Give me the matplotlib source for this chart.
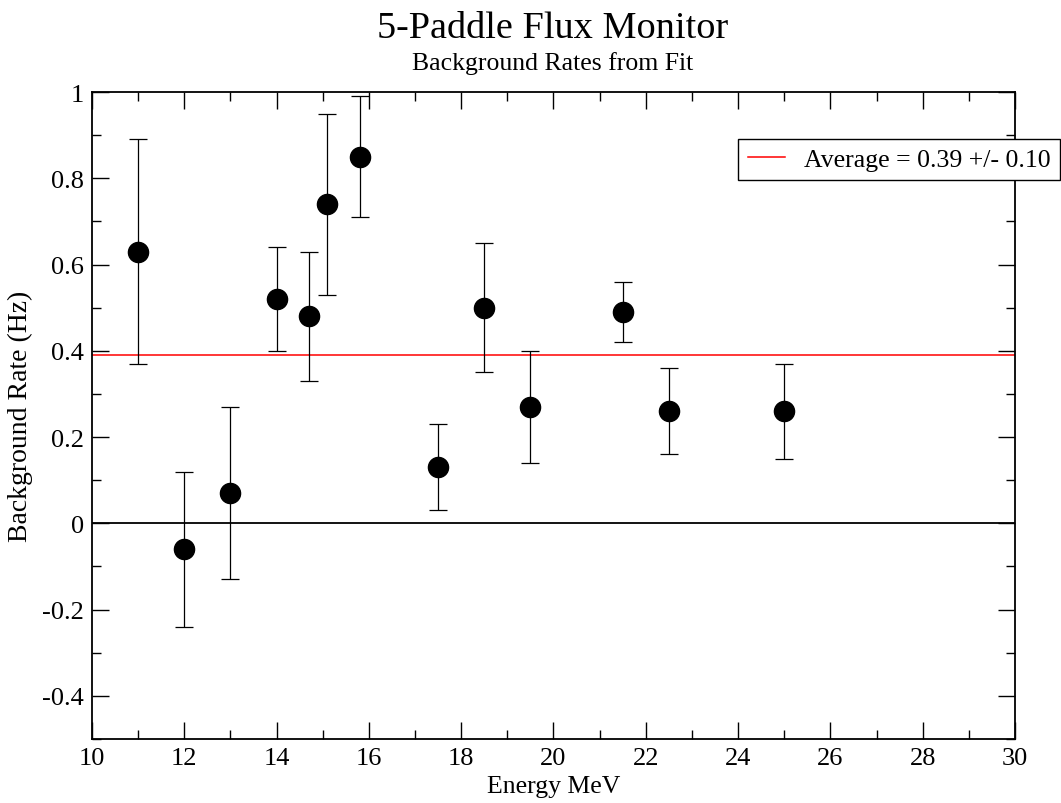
import numpy as np
import matplotlib
matplotlib.use("Agg")
import matplotlib.pyplot as plt
from matplotlib.ticker import MultipleLocator, FuncFormatter

plt.rcParams['font.family'] = ['Liberation Serif', 'DejaVu Serif']
plt.rcParams['axes.unicode_minus'] = False

# energies (MeV), background rates (Hz) and errors
energy = [11, 12, 13, 14, 14.7, 15.1, 15.8, 17.5, 18.5, 19.5, 21.5, 22.5, 25]
rate = [0.63, -0.06, 0.07, 0.52, 0.48, 0.74, 0.85, 0.13, 0.50, 0.27, 0.49, 0.26, 0.26]
rate_err = [0.26, 0.18, 0.20, 0.12, 0.15, 0.21, 0.14, 0.10, 0.15, 0.13, 0.07, 0.10, 0.11]
average = 0.39

fig = plt.figure(figsize=(10.61, 8.04), dpi=100)
ax = fig.add_axes([0.0867, 0.0796, 0.8699, 0.8047])

ax.axhline(0, color='black', lw=1.3, zorder=1)
avg_line = ax.axhline(average, color='red', lw=1.1, zorder=1)
ax.errorbar(energy, rate, yerr=rate_err, fmt='o', color='black', ms=14.5,
            ecolor='black', elinewidth=0.9, capsize=6.5, capthick=0.9, zorder=3)

ax.set_xlim(10, 30)
ax.set_ylim(-0.5, 1)
ax.xaxis.set_major_locator(MultipleLocator(2))
ax.xaxis.set_minor_locator(MultipleLocator(1))
ax.yaxis.set_major_locator(MultipleLocator(0.2))
ax.yaxis.set_minor_locator(MultipleLocator(0.1))
ax.yaxis.set_major_formatter(FuncFormatter(lambda v, p: '%g' % round(v, 2)))
ax.tick_params(which='both', direction='in', top=True, right=True,
               labelsize=19, width=1.0)
ax.tick_params(which='major', length=12.5, pad=6)
ax.tick_params(which='minor', length=6.5)
for s in ax.spines.values():
    s.set_linewidth(1.3)

ax.set_xlabel('Energy MeV', fontsize=18.5, labelpad=4)
ax.set_ylabel('Background Rate (Hz)', fontsize=20, labelpad=6)

fig.text(0.521, 0.9425, '5-Paddle Flux Monitor', ha='center', va='bottom', fontsize=27.5)
fig.text(0.521, 0.9065, 'Background Rates from Fit', ha='center', va='bottom', fontsize=18.5)

leg = fig.legend([avg_line], ['Average = 0.39 +/- 0.10'], loc='upper right',
                 bbox_to_anchor=(0.999, 0.826), fontsize=18.5, fancybox=False,
                 framealpha=1, edgecolor='black', handlelength=1.45,
                 borderpad=0.36, handletextpad=0.75, borderaxespad=0)
leg.get_frame().set_linewidth(1.0)

fig.savefig('out.png', dpi=100)
